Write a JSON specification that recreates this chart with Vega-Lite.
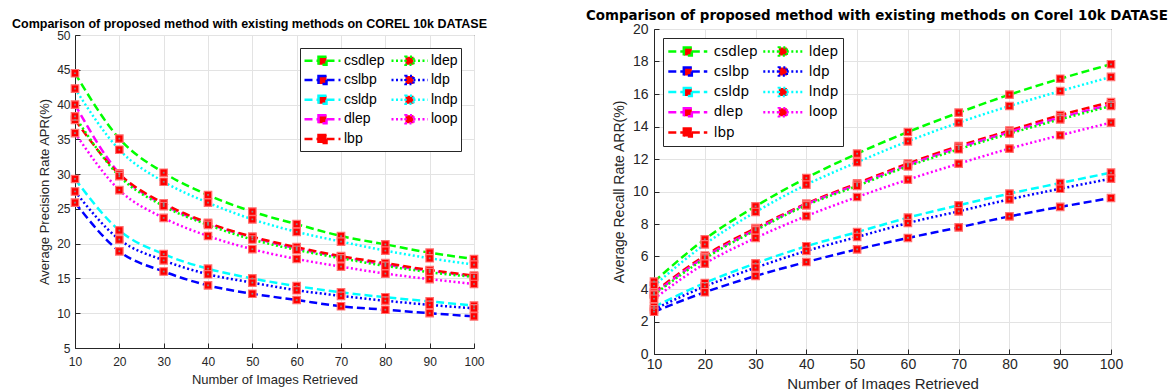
{
  "$schema": "https://vega.github.io/schema/vega-lite/v6.json",
  "background": "white",
  "padding": {"left": 11, "top": 8, "right": 5, "bottom": 0},
  "bounds": "flush",
  "center": true,
  "spacing": 180,
  "config": {
    "view": {"stroke": "#262626", "strokeWidth": 1},
    "font": "Liberation Sans",
    "axis": {
      "domainColor": "#262626",
      "tickColor": "#262626",
      "gridColor": "#e3e3e3",
      "gridWidth": 1,
      "labelColor": "#262626",
      "titleColor": "#262626",
      "labelFont": "Liberation Sans",
      "titleFont": "Liberation Sans",
      "titleFontWeight": "normal",
      "labelFlush": false,
      "tickSize": -5
    },
    "legend": {
      "labelColor": "#000000"
    }
  },
  "datasets": {
    "apr": [
      {"method": "csdlep", "images": 10, "value": 44.5}, {"method": "csdlep", "images": 20, "value": 35.1}, {"method": "csdlep", "images": 30, "value": 30.2}, {"method": "csdlep", "images": 40, "value": 27.0}, {"method": "csdlep", "images": 50, "value": 24.6}, {"method": "csdlep", "images": 60, "value": 22.8}, {"method": "csdlep", "images": 70, "value": 21.1}, {"method": "csdlep", "images": 80, "value": 19.9}, {"method": "csdlep", "images": 90, "value": 18.7}, {"method": "csdlep", "images": 100, "value": 17.8},
      {"method": "lndp", "images": 10, "value": 42.3}, {"method": "lndp", "images": 20, "value": 33.5}, {"method": "lndp", "images": 30, "value": 28.9}, {"method": "lndp", "images": 40, "value": 25.9}, {"method": "lndp", "images": 50, "value": 23.5}, {"method": "lndp", "images": 60, "value": 21.7}, {"method": "lndp", "images": 70, "value": 20.3}, {"method": "lndp", "images": 80, "value": 19.0}, {"method": "lndp", "images": 90, "value": 17.9}, {"method": "lndp", "images": 100, "value": 17.0},
      {"method": "dlep", "images": 10, "value": 40.0}, {"method": "dlep", "images": 20, "value": 30.1}, {"method": "dlep", "images": 30, "value": 25.6}, {"method": "dlep", "images": 40, "value": 22.9}, {"method": "dlep", "images": 50, "value": 20.9}, {"method": "dlep", "images": 60, "value": 19.3}, {"method": "dlep", "images": 70, "value": 18.1}, {"method": "dlep", "images": 80, "value": 17.0}, {"method": "dlep", "images": 90, "value": 16.1}, {"method": "dlep", "images": 100, "value": 15.3},
      {"method": "lbp", "images": 10, "value": 37.8}, {"method": "lbp", "images": 20, "value": 30.0}, {"method": "lbp", "images": 30, "value": 25.8}, {"method": "lbp", "images": 40, "value": 23.0}, {"method": "lbp", "images": 50, "value": 21.0}, {"method": "lbp", "images": 60, "value": 19.5}, {"method": "lbp", "images": 70, "value": 18.2}, {"method": "lbp", "images": 80, "value": 17.2}, {"method": "lbp", "images": 90, "value": 16.2}, {"method": "lbp", "images": 100, "value": 15.4},
      {"method": "ldep", "images": 10, "value": 38.3}, {"method": "ldep", "images": 20, "value": 29.7}, {"method": "ldep", "images": 30, "value": 25.4}, {"method": "ldep", "images": 40, "value": 22.7}, {"method": "ldep", "images": 50, "value": 20.6}, {"method": "ldep", "images": 60, "value": 19.1}, {"method": "ldep", "images": 70, "value": 17.9}, {"method": "ldep", "images": 80, "value": 16.8}, {"method": "ldep", "images": 90, "value": 15.9}, {"method": "ldep", "images": 100, "value": 15.2},
      {"method": "loop", "images": 10, "value": 35.9}, {"method": "loop", "images": 20, "value": 27.7}, {"method": "loop", "images": 30, "value": 23.7}, {"method": "loop", "images": 40, "value": 21.1}, {"method": "loop", "images": 50, "value": 19.2}, {"method": "loop", "images": 60, "value": 17.8}, {"method": "loop", "images": 70, "value": 16.7}, {"method": "loop", "images": 80, "value": 15.7}, {"method": "loop", "images": 90, "value": 14.9}, {"method": "loop", "images": 100, "value": 14.2},
      {"method": "csldp", "images": 10, "value": 29.3}, {"method": "csldp", "images": 20, "value": 21.9}, {"method": "csldp", "images": 30, "value": 18.5}, {"method": "csldp", "images": 40, "value": 16.4}, {"method": "csldp", "images": 50, "value": 15.0}, {"method": "csldp", "images": 60, "value": 13.9}, {"method": "csldp", "images": 70, "value": 13.0}, {"method": "csldp", "images": 80, "value": 12.3}, {"method": "csldp", "images": 90, "value": 11.7}, {"method": "csldp", "images": 100, "value": 11.1},
      {"method": "ldp", "images": 10, "value": 27.5}, {"method": "ldp", "images": 20, "value": 20.6}, {"method": "ldp", "images": 30, "value": 17.6}, {"method": "ldp", "images": 40, "value": 15.6}, {"method": "ldp", "images": 50, "value": 14.4}, {"method": "ldp", "images": 60, "value": 13.3}, {"method": "ldp", "images": 70, "value": 12.5}, {"method": "ldp", "images": 80, "value": 11.8}, {"method": "ldp", "images": 90, "value": 11.2}, {"method": "ldp", "images": 100, "value": 10.7},
      {"method": "cslbp", "images": 10, "value": 25.9}, {"method": "cslbp", "images": 20, "value": 18.9}, {"method": "cslbp", "images": 30, "value": 16.0}, {"method": "cslbp", "images": 40, "value": 14.0}, {"method": "cslbp", "images": 50, "value": 12.8}, {"method": "cslbp", "images": 60, "value": 11.9}, {"method": "cslbp", "images": 70, "value": 11.0}, {"method": "cslbp", "images": 80, "value": 10.5}, {"method": "cslbp", "images": 90, "value": 10.0}, {"method": "cslbp", "images": 100, "value": 9.55}
    ],
    "arr": [
      {"method": "csdlep", "images": 10, "value": 4.45}, {"method": "csdlep", "images": 20, "value": 7.06}, {"method": "csdlep", "images": 30, "value": 9.09}, {"method": "csdlep", "images": 40, "value": 10.83}, {"method": "csdlep", "images": 50, "value": 12.33}, {"method": "csdlep", "images": 60, "value": 13.66}, {"method": "csdlep", "images": 70, "value": 14.85}, {"method": "csdlep", "images": 80, "value": 15.96}, {"method": "csdlep", "images": 90, "value": 16.94}, {"method": "csdlep", "images": 100, "value": 17.83},
      {"method": "lndp", "images": 10, "value": 4.2}, {"method": "lndp", "images": 20, "value": 6.75}, {"method": "lndp", "images": 30, "value": 8.74}, {"method": "lndp", "images": 40, "value": 10.42}, {"method": "lndp", "images": 50, "value": 11.8}, {"method": "lndp", "images": 60, "value": 13.09}, {"method": "lndp", "images": 70, "value": 14.24}, {"method": "lndp", "images": 80, "value": 15.26}, {"method": "lndp", "images": 90, "value": 16.18}, {"method": "lndp", "images": 100, "value": 17.05},
      {"method": "lbp", "images": 10, "value": 3.8}, {"method": "lbp", "images": 20, "value": 6.05}, {"method": "lbp", "images": 30, "value": 7.75}, {"method": "lbp", "images": 40, "value": 9.25}, {"method": "lbp", "images": 50, "value": 10.5}, {"method": "lbp", "images": 60, "value": 11.72}, {"method": "lbp", "images": 70, "value": 12.8}, {"method": "lbp", "images": 80, "value": 13.75}, {"method": "lbp", "images": 90, "value": 14.7}, {"method": "lbp", "images": 100, "value": 15.5},
      {"method": "dlep", "images": 10, "value": 3.7}, {"method": "dlep", "images": 20, "value": 5.95}, {"method": "dlep", "images": 30, "value": 7.65}, {"method": "dlep", "images": 40, "value": 9.2}, {"method": "dlep", "images": 50, "value": 10.42}, {"method": "dlep", "images": 60, "value": 11.62}, {"method": "dlep", "images": 70, "value": 12.7}, {"method": "dlep", "images": 80, "value": 13.65}, {"method": "dlep", "images": 90, "value": 14.55}, {"method": "dlep", "images": 100, "value": 15.35},
      {"method": "ldep", "images": 10, "value": 3.65}, {"method": "ldep", "images": 20, "value": 5.87}, {"method": "ldep", "images": 30, "value": 7.61}, {"method": "ldep", "images": 40, "value": 9.15}, {"method": "ldep", "images": 50, "value": 10.34}, {"method": "ldep", "images": 60, "value": 11.55}, {"method": "ldep", "images": 70, "value": 12.6}, {"method": "ldep", "images": 80, "value": 13.56}, {"method": "ldep", "images": 90, "value": 14.44}, {"method": "ldep", "images": 100, "value": 15.26},
      {"method": "loop", "images": 10, "value": 3.4}, {"method": "loop", "images": 20, "value": 5.56}, {"method": "loop", "images": 30, "value": 7.14}, {"method": "loop", "images": 40, "value": 8.49}, {"method": "loop", "images": 50, "value": 9.66}, {"method": "loop", "images": 60, "value": 10.73}, {"method": "loop", "images": 70, "value": 11.71}, {"method": "loop", "images": 80, "value": 12.64}, {"method": "loop", "images": 90, "value": 13.46}, {"method": "loop", "images": 100, "value": 14.24},
      {"method": "csldp", "images": 10, "value": 2.9}, {"method": "csldp", "images": 20, "value": 4.37}, {"method": "csldp", "images": 30, "value": 5.58}, {"method": "csldp", "images": 40, "value": 6.63}, {"method": "csldp", "images": 50, "value": 7.5}, {"method": "csldp", "images": 60, "value": 8.39}, {"method": "csldp", "images": 70, "value": 9.15}, {"method": "csldp", "images": 80, "value": 9.87}, {"method": "csldp", "images": 90, "value": 10.52}, {"method": "csldp", "images": 100, "value": 11.16},
      {"method": "ldp", "images": 10, "value": 2.75}, {"method": "ldp", "images": 20, "value": 4.16}, {"method": "ldp", "images": 30, "value": 5.31}, {"method": "ldp", "images": 40, "value": 6.34}, {"method": "ldp", "images": 50, "value": 7.2}, {"method": "ldp", "images": 60, "value": 8.06}, {"method": "ldp", "images": 70, "value": 8.78}, {"method": "ldp", "images": 80, "value": 9.52}, {"method": "ldp", "images": 90, "value": 10.17}, {"method": "ldp", "images": 100, "value": 10.79},
      {"method": "cslbp", "images": 10, "value": 2.6}, {"method": "cslbp", "images": 20, "value": 3.8}, {"method": "cslbp", "images": 30, "value": 4.8}, {"method": "cslbp", "images": 40, "value": 5.66}, {"method": "cslbp", "images": 50, "value": 6.44}, {"method": "cslbp", "images": 60, "value": 7.14}, {"method": "cslbp", "images": 70, "value": 7.79}, {"method": "cslbp", "images": 80, "value": 8.47}, {"method": "cslbp", "images": 90, "value": 9.05}, {"method": "cslbp", "images": 100, "value": 9.6}
    ]
  },
  "hconcat": [
    {
      "width": 399,
      "height": 313,
      "data": {"name": "apr"},
      "title": {"text": "Comparison of proposed method with existing methods on COREL 10k DATASE", "anchor": "start", "frame": "group", "dx": -63, "dy": 1, "offset": 0, "fontSize": 12.5, "fontWeight": "bold", "color": "#000000", "font": "Liberation Sans"},
      "encoding": {
        "x": {"field": "images", "type": "quantitative", "scale": {"domain": [10, 100], "nice": false, "zero": false},
              "axis": {"values": [10, 20, 30, 40, 50, 60, 70, 80, 90, 100], "title": "Number of Images Retrieved", "labelFontSize": 12, "titleFontSize": 13, "labelPadding": 13, "titlePadding": 6}},
        "y": {"field": "value", "type": "quantitative", "scale": {"domain": [5, 50], "nice": false, "zero": false},
              "axis": {"values": [5, 10, 15, 20, 25, 30, 35, 40, 45, 50], "title": "Average Precision Rate APR(%)", "labelFontSize": 12, "titleFontSize": 13, "labelPadding": 10, "titlePadding": 5}}
      },
      "layer": [
        {
          "mark": {"type": "line", "interpolate": "monotone", "strokeWidth": 2.5},
          "encoding": {
            "color": {"field": "method", "type": "nominal",
                      "scale": {"domain": ["csdlep", "cslbp", "csldp", "dlep", "lbp", "ldep", "ldp", "lndp", "loop"],
                                "range": ["#00ff00", "#0000ff", "#00ffff", "#ff00ff", "#ff0000", "#00ff00", "#0000ff", "#00ffff", "#ff00ff"]},
                      "legend": {"title": null, "orient": "top-right", "offset": 13, "columns": 2, "strokeColor": "#262626", "fillColor": "white", "padding": 3, "symbolType": "M-1,0H0.75M1.75,0H3.5M0.75,-0.5H1.75V0.5H0.75Z", "symbolSize": 256, "symbolStrokeWidth": 2.5, "labelFont": "Liberation Sans", "labelFontSize": 14, "rowPadding": 0.6, "columnPadding": 1, "labelOffset": 22,
                                 "encode": {"symbols": {"update": {"fill": {"value": "#ff0000"}}}}}},
            "strokeDash": {"field": "method", "type": "nominal",
                           "scale": {"domain": ["csdlep", "cslbp", "csldp", "dlep", "lbp", "ldep", "ldp", "lndp", "loop"],
                                     "range": [[8, 4], [8, 4], [8, 4], [8, 4], [8, 4], [2, 2.5], [2, 2.5], [2, 2.5], [2, 2.5]]},
                           "legend": {"title": null, "orient": "top-right", "offset": 13, "columns": 2, "strokeColor": "#262626", "fillColor": "white", "padding": 3, "symbolType": "M-1,0H0.75M1.75,0H3.5M0.75,-0.5H1.75V0.5H0.75Z", "symbolSize": 256, "symbolStrokeWidth": 2.5, "labelFont": "Liberation Sans", "labelFontSize": 14, "rowPadding": 0.6, "columnPadding": 1, "labelOffset": 22,
                                      "encode": {"symbols": {"update": {"fill": {"value": "#ff0000"}}}}}}
          }
        },
        {"mark": {"type": "point", "shape": "square", "filled": true, "size": 56, "fill": "#ff0000", "stroke": "#ff7070", "strokeWidth": 1.2, "opacity": 1}},
        {"mark": {"type": "point", "shape": "square", "filled": true, "size": 3, "fill": "#8a8a8a", "opacity": 1}}
      ]
    },
    {
      "width": 457,
      "height": 325,
      "data": {"name": "arr"},
      "title": {"text": "Comparison  of proposed method with existing methods on Corel 10k DATASET", "anchor": "start", "frame": "group", "dx": -68, "offset": 0, "fontSize": 13.4, "fontWeight": "bold", "color": "#000000", "font": "DejaVu Sans"},
      "encoding": {
        "x": {"field": "images", "type": "quantitative", "scale": {"domain": [10, 100], "nice": false, "zero": false},
              "axis": {"values": [10, 20, 30, 40, 50, 60, 70, 80, 90, 100], "title": "Number of Images Retrieved", "labelFontSize": 14, "titleFontSize": 15, "labelPadding": 8, "titlePadding": 5}},
        "y": {"field": "value", "type": "quantitative", "scale": {"domain": [0, 20], "nice": false, "zero": false},
              "axis": {"values": [0, 2, 4, 6, 8, 10, 12, 14, 16, 18, 20], "title": "Average Recall Rate ARR(%)", "labelFontSize": 14, "titleFontSize": 14, "labelPadding": 11, "titlePadding": 6}}
      },
      "layer": [
        {
          "mark": {"type": "line", "interpolate": "monotone", "strokeWidth": 2.5},
          "encoding": {
            "color": {"field": "method", "type": "nominal",
                      "scale": {"domain": ["csdlep", "cslbp", "csldp", "dlep", "lbp", "ldep", "ldp", "lndp", "loop"],
                                "range": ["#00ff00", "#0000ff", "#00ffff", "#ff00ff", "#ff0000", "#00ff00", "#0000ff", "#00ffff", "#ff00ff"]},
                      "legend": {"title": null, "orient": "top-left", "offset": 9, "columns": 2, "strokeColor": "#262626", "fillColor": "white", "padding": 3.8, "symbolType": "M-1,0H0.94M1.94,0H3.875M0.94,-0.5H1.94V0.5H0.94Z", "symbolSize": 256, "symbolStrokeWidth": 2.5, "labelFont": "DejaVu Sans", "labelFontSize": 13.5, "rowPadding": 1.3, "columnPadding": 0, "labelOffset": 28,
                                 "encode": {"symbols": {"update": {"fill": {"value": "#ff0000"}}}}}},
            "strokeDash": {"field": "method", "type": "nominal",
                           "scale": {"domain": ["csdlep", "cslbp", "csldp", "dlep", "lbp", "ldep", "ldp", "lndp", "loop"],
                                     "range": [[8, 4], [8, 4], [8, 4], [8, 4], [8, 4], [2, 2.5], [2, 2.5], [2, 2.5], [2, 2.5]]},
                           "legend": {"title": null, "orient": "top-left", "offset": 9, "columns": 2, "strokeColor": "#262626", "fillColor": "white", "padding": 3.8, "symbolType": "M-1,0H0.94M1.94,0H3.875M0.94,-0.5H1.94V0.5H0.94Z", "symbolSize": 256, "symbolStrokeWidth": 2.5, "labelFont": "DejaVu Sans", "labelFontSize": 13.5, "rowPadding": 1.3, "columnPadding": 0, "labelOffset": 28,
                                      "encode": {"symbols": {"update": {"fill": {"value": "#ff0000"}}}}}}
          }
        },
        {"mark": {"type": "point", "shape": "square", "filled": true, "size": 56, "fill": "#ff0000", "stroke": "#ff7070", "strokeWidth": 1.2, "opacity": 1}},
        {"mark": {"type": "point", "shape": "square", "filled": true, "size": 3, "fill": "#8a8a8a", "opacity": 1}}
      ]
    }
  ],
  "resolve": {"scale": {"color": "independent", "strokeDash": "independent"}, "legend": {"color": "independent", "strokeDash": "independent"}}
}
